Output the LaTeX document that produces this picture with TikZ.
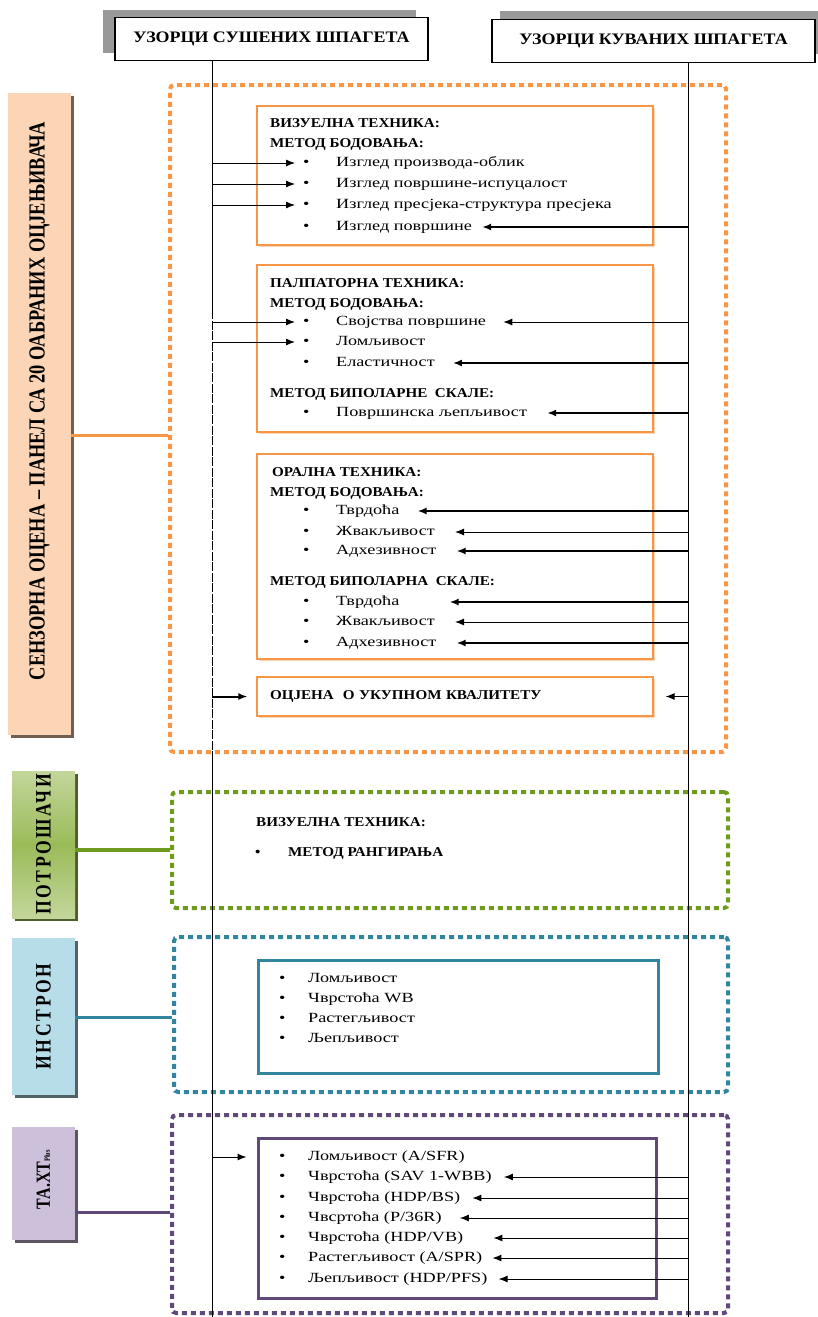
\documentclass[tikz,border=0pt]{standalone}
\usepackage{fontspec}
\setmainfont{Liberation Serif}[FakeStretch=1.12]
\newfontfamily\wide{Liberation Serif}[FakeStretch=1.3]
\newfontfamily\narrow{Liberation Serif}[FakeStretch=0.8]
\usetikzlibrary{arrows.meta,shadows}

\definecolor{sens}{HTML}{F79646}
\definecolor{sensbg}{HTML}{FBD5B5}
\definecolor{cons}{HTML}{6E9B1E}
\definecolor{consbg}{HTML}{C3D69B}
\definecolor{consmid}{HTML}{9BBB59}
\definecolor{inst}{HTML}{31859C}
\definecolor{instbg}{HTML}{B7DDE8}
\definecolor{texa}{HTML}{5F497A}
\definecolor{texabg}{HTML}{CCC0DA}
\newcommand\blt[1]{\makebox[#1][l]{\textbullet}}

\begin{document}
\begin{tikzpicture}[x=1pt,y=-1pt,
	sample/.style={draw,line width=1.2pt,fill=white,minimum height=43pt,font=\fontsize{16}{16}\bfseries},
	grp/.style={draw=#1,line width=4pt,dash pattern=on 5pt off 4pt,rounded corners=4pt},
	side/.style={inner sep=0pt,minimum width=63pt,general shadow={shadow xshift=3pt,shadow yshift=-3pt,fill=#1}},
	sub/.style={draw=sens,line width=1.2pt,fill=white,general shadow={shadow xshift=2pt,shadow yshift=-2pt,fill=sens!40}},
	hd/.style={anchor=west,inner sep=0pt,text height=10pt,text depth=2pt,font=\fontsize{13.5}{13.5}\bfseries},
	itm/.style={anchor=west,inner sep=0pt,text height=10pt,text depth=3pt,font=\wide\fontsize{14}{14}\selectfont},
	arr/.style={-{Latex[length=9pt,width=7pt]},line width=1pt}]
	\useasboundingbox (0,0) rectangle (817,1317);

	% groups first, the sample lines run over them
	\node[grp=sens,minimum width=556pt,minimum height=667pt] (sensgrp) at (448,418.5) {};
	\node[grp=cons,minimum width=556pt,minimum height=116pt] (consgrp) at (450,850) {};
	\node[grp=inst,minimum width=554pt,minimum height=155pt] (instgrp) at (451,1014.5) {};
	\node[grp=texa,minimum width=556pt,minimum height=198pt] (texagrp) at (450,1214) {};

	% sample columns
	\node[sample,minimum width=313pt,general shadow={shadow xshift=-12pt,shadow yshift=8pt,fill=black!40}] (dry) at (271.5,39) {УЗОРЦИ СУШЕНИХ ШПАГЕТА};
	\node[sample,minimum width=323pt,general shadow={shadow xshift=8pt,shadow yshift=9pt,fill=black!40}] (cooked) at (653.5,41) {УЗОРЦИ КУВАНИХ ШПАГЕТА};
	\coordinate (dl) at (dry.south -| 212,0);
	\coordinate (cl) at (cooked.south -| 688,0);
	\draw (dl) -- (212,310) (cl) -- (688,1317);
	\draw[dash pattern=on 9pt off 1.5pt] (212,310) -- (212,760);
	\draw (212,760) -- (212,1317);

	% sensory panel
	\node[side=sensbg!45!black,fill=sensbg,minimum height=642pt] (senslbl) at (39.5,414) {\rotatebox{90}{\narrow\fontsize{23}{23}\bfseries\hspace*{26pt}СЕНЗОРНА ОЦЕНА – ПАНЕЛ СА 20 ОАБРАНИХ ОЦЈЕЊИВАЧА}};
	\draw[sens,line width=3pt] (senslbl.east |- 0,435) -- (sensgrp.west |- 0,435);

	\node[sub,minimum width=396pt,minimum height=139pt] (vis) at (455,175.5) {};
	\node[hd] (vish) at (270,123) {ВИЗУЕЛНА ТЕХНИКА:};
	\node[hd] (vism) at (270,143) {МЕТОД БОДОВАЊА:};
	\foreach \n/\y/\t in {v1/163/Изглед производа-облик,v2/184/Изглед површине-испуцалост,v3/205/Изглед пресјека-структура пресјека,v4/227/Изглед површине}
		\node[itm] (\n) at (303,\y) {\blt{33pt}\t};

	\node[sub,minimum width=396pt,minimum height=167pt] (pal) at (455,348.5) {};
	\node[hd] (palh) at (270,283) {ПАЛПАТОРНА ТЕХНИКА:};
	\node[hd] (palm) at (270,303) {МЕТОД БОДОВАЊА:};
	\node[hd] (palb) at (270,393) {МЕТОД БИПОЛАРНЕ\ \ СКАЛЕ:};
	\foreach \n/\y/\t in {p1/322/Својства површине,p2/342/Ломљивост,p3/363/Еластичност,p4/413/Површинска љепљивост}
		\node[itm] (\n) at (303,\y) {\blt{33pt}\t};

	\node[sub,minimum width=396pt,minimum height=205pt] (ora) at (455,556.5) {};
	\node[hd] (orah) at (272,472) {ОРАЛНА ТЕХНИКА:};
	\node[hd] (oram) at (270,492) {МЕТОД БОДОВАЊА:};
	\node[hd] (orab) at (270,581) {МЕТОД БИПОЛАРНА\ \ СКАЛЕ:};
	\foreach \n/\y/\t in {o1/511/Тврдоћа,o2/532/Жвакљивост,o3/551/Адхезивност,o4/602/Тврдоћа,o5/622/Жвакљивост,o6/643/Адхезивност}
		\node[itm] (\n) at (303,\y) {\blt{33pt}\t};

	\node[sub,minimum width=396pt,minimum height=39pt,text width=370pt,align=left,font=\fontsize{13.5}{13.5}\bfseries] (qual) at (455,696.5) {ОЦЈЕНА\ \ О УКУПНОМ КВАЛИТЕТУ};

	\foreach \n in {v1,v2,v3,p1,p2} \draw[arr,shorten >=8pt] (dl |- \n.west) -- (\n.west);
	\draw[arr,line width=2pt,shorten >=9pt] (dl |- qual.west) -- (qual.west);
	\draw[arr,shorten >=12pt] (cl |- qual.east) -- (qual.east);

	% consumers
	\node[side=consmid!50!black,minimum height=147pt,top color=consbg,bottom color=consbg,middle color=consmid] (conslbl) at (43.5,844.5) {\rotatebox{90}{\narrow\fontsize{22}{22}\bfseries\addfontfeature{LetterSpace=12}ПОТРОШАЧИ}};
	\draw[cons,line width=4pt] (conslbl.east |- consgrp.west) -- (consgrp.west);
	\node[hd] (consh) at (256,822) {ВИЗУЕЛНА ТЕХНИКА:};
	\node[hd] (consm) at (255,852) {\blt{33pt}МЕТОД РАНГИРАЊА};

	% instron
	\node[side=instbg!45!black,fill=instbg,minimum height=157pt] (instlbl) at (43.5,1016.5) {\rotatebox{90}{\narrow\fontsize{22}{22}\bfseries\addfontfeature{LetterSpace=12}ИНСТРОН}};
	\draw[inst,line width=3pt] (instlbl.east |- 0,1017) -- (instgrp.west |- 0,1017);
	\node[draw=inst,line width=3pt,minimum width=400pt,minimum height=113pt] (instbox) at (458,1016.5) {};
	\foreach \n/\y/\t in {i1/979/Ломљивост,i2/999/Чврстоћа WB,i3/1019/Растегљивост,i4/1039/Љепљивост}
		\node[itm] (\n) at (279,\y) {\blt{29pt}\t};

	% texture analyser
	\node[side=texabg!45!black,fill=texabg,minimum height=113pt] (texalbl) at (43.5,1183.5) {\rotatebox{90}{\narrow\fontsize{20}{20}\bfseries\hspace*{8pt}TA.XT{\fontsize{8}{8}\selectfont Plus}}};
	\draw[texa,line width=3pt] (texalbl.east |- 0,1212) -- (texagrp.west |- 0,1212);
	\node[draw=texa,line width=3pt,minimum width=398pt,minimum height=160pt] (texabox) at (457,1218) {};
	\foreach \n/\y/\t in {t1/1157/{Ломљивост (A/SFR)},t2/1177/{Чврстоћа (SAV 1-WBB)},t3/1198/{Чврстоћа (HDP/BS)},t4/1218/{Чвсртоћа (P/36R)},t5/1238/{Чврстоћа (HDP/VB)},t6/1258/{Растегљивост (A/SPR)},t7/1279/{Љепљивост (HDP/PFS)}}
		\node[itm] (\n) at (279,\y) {\blt{29pt}\t};
	\draw[arr,shorten >=10pt] (dl |- t1.west) -- (texabox.west |- t1.west);

	% measurements on the cooked samples
	\foreach \n/\d/\w in {v4/10/2,p1/17/1,p3/18/2,p4/20/2,o1/18/2,o2/20/1,o3/20/2,o4/50/2.5,o5/20/1,o6/20/2,t2/12/1,t3/12/1,t4/18/1,t5/30/1,t6/10/1,t7/11/1}
		\draw[arr,line width=\w pt] (cl |- \n.east) -- ([xshift=\d pt]\n.east);
\end{tikzpicture}
\end{document}
